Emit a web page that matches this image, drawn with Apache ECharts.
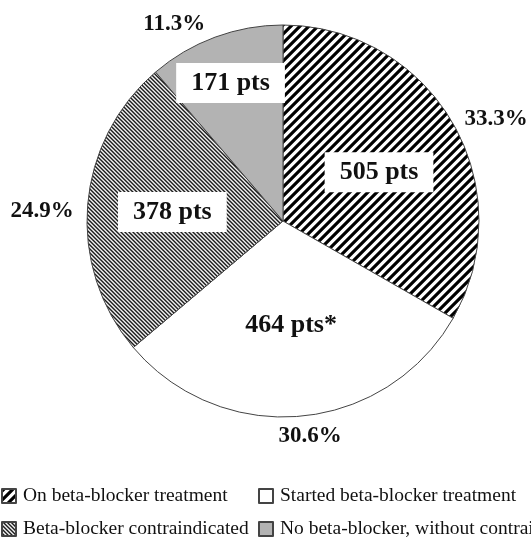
<!DOCTYPE html>
<html>
<head>
<meta charset="utf-8">
<script src="https://cdn.jsdelivr.net/npm/echarts@6/dist/echarts.min.js"></script>
<style>
  html, body { margin: 0; padding: 0; background: #fff; }
  #chart { width: 531px; height: 542px; }
</style>
</head>
<body>
<div id="chart"></div>
<script>
// groups of patients, clockwise from 12 o'clock
var groups = ['On beta-blocker treatment', 'Started beta-blocker treatment',
              'Beta-blocker contraindicated', 'No beta-blocker, without contraindication'];
var patients = [505, 464, 378, 171];
var ptsMarks = ['', '*', '', ''];
var total = patients.reduce(function (a, b) { return a + b; }, 0);

// striped fill tile, anti-aliased by 4x4 sampling
function stripes(size, dark, ink, paper, dir) {
    var c = document.createElement('canvas');
    c.width = size; c.height = size;
    var g = c.getContext('2d');
    var img = g.createImageData(size, size);
    for (var y = 0; y < size; y++) {
        for (var x = 0; x < size; x++) {
            var hit = 0;
            for (var sy = 0; sy < 4; sy++) {
                for (var sx = 0; sx < 4; sx++) {
                    var px = x + (sx + 0.5) / 4, py = y + (sy + 0.5) / 4;
                    var t = dir > 0 ? px + py : px - py;
                    t = ((t % size) + size) % size;
                    if (t < dark) hit++;
                }
            }
            var a = hit / 16, o = (y * size + x) * 4;
            for (var k = 0; k < 3; k++) img.data[o + k] = Math.round(ink[k] * a + paper[k] * (1 - a));
            img.data[o + 3] = 255;
        }
    }
    g.putImageData(img, 0, 0);
    return c;
}

var fills = [
    { image: stripes(9, 4.3, [0, 0, 0], [255, 255, 255], 1), repeat: 'repeat' },
    '#ffffff',
    { image: stripes(4, 1.9, [30, 30, 30], [240, 240, 240], -1), repeat: 'repeat' },
    '#b3b3b3'
];

var serif = 'Liberation Serif';
var chart = echarts.init(document.getElementById('chart'));

var pctOffsets = [[0, 0], [-28, 12], [-1, 7], [-2, -6]];
var ptsOffsets = [[0, 7], [-2, -6], [0, 0], [-14, -34]];

var mainData = groups.map(function (n, i) {
    return { name: n, value: patients[i], itemStyle: { color: fills[i] },
             label: { offset: pctOffsets[i] } };
});
var labelData = groups.map(function (n, i) {
    return { name: n, value: patients[i], label: { offset: ptsOffsets[i] } };
});

chart.setOption({
    backgroundColor: '#fff',
    animation: false,
    legend: [{
        data: [groups[0], groups[2]],
        orient: 'vertical', left: 1, top: 486, padding: 0,
        icon: 'rect', itemWidth: 14, itemHeight: 14, itemGap: 13,
        textStyle: { fontFamily: serif, fontSize: 19.5, color: '#111', padding: [0, 0, 0, 2] }
    }, {
        data: [groups[1], groups[3]],
        orient: 'vertical', left: 258, top: 486, padding: 0,
        icon: 'rect', itemWidth: 14, itemHeight: 14, itemGap: 13,
        textStyle: { fontFamily: serif, fontSize: 19.5, color: '#111', padding: [0, 0, 0, 2] }
    }],
    series: [{
        type: 'pie',
        center: [283, 221],
        radius: 196,
        startAngle: 90,
        avoidLabelOverlap: false,
        itemStyle: { borderColor: '#444', borderWidth: 1 },
        label: {
            position: 'outside',
            formatter: function (p) { return (p.value / total * 100).toFixed(1) + '%'; },
            fontFamily: serif, fontSize: 23, fontWeight: 'bold', color: '#111'
        },
        labelLine: { show: false, length: 8, length2: 0 },
        emphasis: { disabled: true },
        data: mainData
    }, {
        type: 'pie',
        center: [283, 221],
        radius: 216,
        startAngle: 90,
        silent: true,
        legendHoverLink: false,
        itemStyle: { color: 'rgba(0,0,0,0)' },
        label: {
            position: 'inside',
            formatter: function (p) { return p.value + ' pts' + ptsMarks[p.dataIndex]; },
            backgroundColor: '#fff',
            padding: [7, 15],
            fontFamily: serif, fontSize: 26, fontWeight: 'bold', color: '#111'
        },
        labelLine: { show: false },
        emphasis: { disabled: true },
        data: labelData
    }]
});
</script>
</body>
</html>
